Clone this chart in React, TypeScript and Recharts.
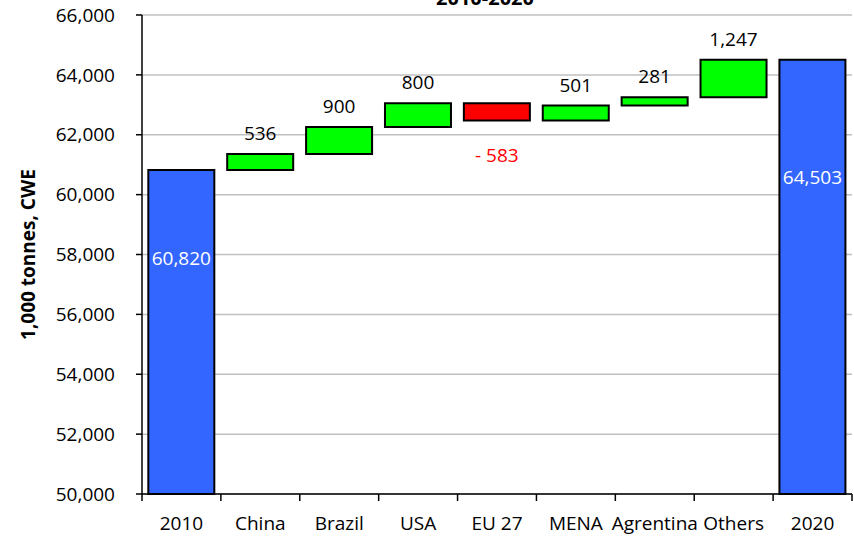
import React from 'react';
import { ComposedChart, Bar, Cell, XAxis, YAxis, CartesianGrid, LabelList } from 'recharts';

const categories = ['2010', 'China', 'Brazil', 'USA', 'EU 27', 'MENA', 'Agrentina', 'Others', '2020'];
const changes = [60820, 536, 900, 800, -583, 501, 281, 1247, 64503];
const isTotal = [true, false, false, false, false, false, false, false, true];
const yTicks = [50000, 52000, 54000, 56000, 58000, 60000, 62000, 64000, 66000];

const Y_MIN = 50000;
const Y_MAX = 66000;

const COLORS = {
    total: '#3366FF',
    up: '#00FF00',
    down: '#FF0000',
};

const W = 854;
const H = 544;
const MARGIN = { top: 15, right: 2, left: 0, bottom: 0 };
const Y_AXIS_W = 142;
const BAND = (W - Y_AXIS_W - MARGIN.right) / categories.length;

// build the waterfall rows from the running total
let level = 0;
const rows = categories.map((name, i) => {
    if (isTotal[i]) {
        level = changes[i];
        return { name, low: Y_MIN, high: changes[i], value: changes[i], kind: 'total' };
    }
    const start = level;
    level += changes[i];
    return {
        name,
        low: Math.min(start, level),
        high: Math.max(start, level),
        value: changes[i],
        kind: changes[i] >= 0 ? 'up' : 'down',
    };
});

const fmt = (v: number) => v.toLocaleString('en-US');

const XTick = (props: any) => {
    const { x, y, payload, index } = props;
    const last = index === categories.length - 1;
    return (
        <g>
            <line x1={x - BAND / 2} x2={x - BAND / 2} y1={y} y2={y + 7} stroke="#000" strokeWidth={1.5} />
            {last && <line x1={x + BAND / 2} x2={x + BAND / 2} y1={y} y2={y + 7} stroke="#000" strokeWidth={1.5} />}
            <text x={x} y={y + 36} textAnchor="middle" fill="#000" fontSize={19}>
                {payload.value}
            </text>
        </g>
    );
};

const BarLabel = (props: any) => {
    const vb = props.viewBox || props;
    const x = vb.x;
    const top = Math.min(vb.y, vb.y + vb.height);
    const h = Math.abs(vb.height);
    const row = rows[props.index];
    if (!row) return null;
    const cx = x + vb.width / 2;
    if (row.kind === 'total') {
        return (
            <text x={cx} y={top + h * 0.27 + 7} textAnchor="middle" fill="#fff" fontSize={19}>
                {fmt(row.value)}
            </text>
        );
    }
    if (row.kind === 'down') {
        return (
            <text x={cx} y={top + h + 41} textAnchor="middle" fill="#FF0000" fontSize={19}>
                {`- ${fmt(Math.abs(row.value))}`}
            </text>
        );
    }
    return (
        <text x={cx} y={top - 14} textAnchor="middle" fill="#000" fontSize={19}>
            {fmt(row.value)}
        </text>
    );
};

const App = () => {
    return (
        <div style={{ position: 'fixed', left: 0, top: 0, width: W, height: H, fontFamily: '"Open Sans", sans-serif', background: '#fff' }}>
            <svg width={W} height={20} style={{ position: 'absolute', left: 0, top: 0 }}>
                <text x={485} y={5} textAnchor="middle" fontSize={20} fontWeight="bold" fill="#000">
                    2010-2020
                </text>
            </svg>
            <ComposedChart width={W} height={H} data={rows} margin={MARGIN} barCategoryGap="8%">
                <CartesianGrid vertical={false} stroke="#C0C0C0" strokeWidth={1.5} />
                <XAxis
                    dataKey="name"
                    interval={0}
                    tickLine={false}
                    tickSize={0}
                    tickMargin={0}
                    height={50}
                    axisLine={{ stroke: '#000', strokeWidth: 1.5 }}
                    tick={<XTick />}
                />
                <YAxis
                    width={Y_AXIS_W}
                    domain={[Y_MIN, Y_MAX]}
                    ticks={yTicks}
                    tickFormatter={fmt}
                    tickSize={6}
                    tickMargin={21}
                    interval={0}
                    axisLine={{ stroke: '#000', strokeWidth: 1.5 }}
                    tickLine={{ stroke: '#000', strokeWidth: 1.5 }}
                    tick={{ fill: '#000', fontSize: 19 }}
                    label={{
                        value: '1,000 tonnes, CWE',
                        angle: -90,
                        position: 'center',
                        dx: -43,
                        style: { fontWeight: 'bold', fontSize: 19, fill: '#000', textAnchor: 'middle' },
                    }}
                />
                <Bar dataKey={(d: any) => [d.low, d.high]} stroke="#000" strokeWidth={2} isAnimationActive={false}>
                    {rows.map((r) => (
                        <Cell key={`cell-${r.name}`} fill={COLORS[r.kind as keyof typeof COLORS]} />
                    ))}
                    <LabelList content={<BarLabel />} />
                </Bar>
            </ComposedChart>
        </div>
    );
};

export default App;
